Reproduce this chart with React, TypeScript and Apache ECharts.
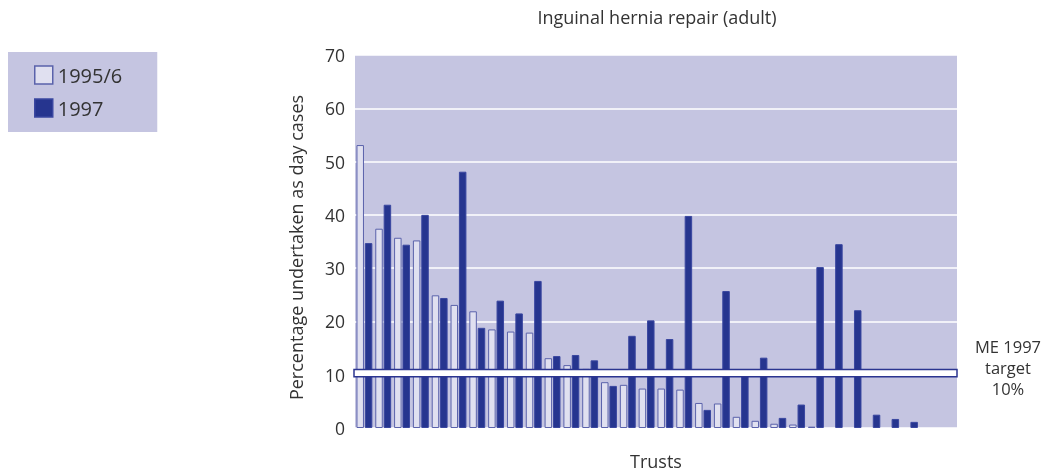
import React, { useEffect, useRef } from "react";
import * as echarts from "echarts";

const trusts: string[] = Array.from({ length: 32 }, (_, i) => `Trust ${i + 1}`);
const values1995: (number | null)[] = [
  53.1, 37.4, 35.7, 35.2, 24.9, 23.1, 21.9, 18.5, 18.1, 17.9,
  13.1, 11.8, 11.1, 8.6, 8.1, 7.4, 7.4, 7.2, 4.7, 4.6,
  2.1, 1.35, 0.8, 0.65, 0.25, null, null, null, null, null, null, null,
];
const values1997: (number | null)[] = [
  34.7, 41.9, 34.4, 40.0, 24.4, 48.1, 18.8, 23.9, 21.5, 27.6,
  13.5, 13.7, 12.7, 7.9, 17.3, 20.2, 16.7, 39.8, 3.4, 25.7,
  10.2, 13.2, 1.9, 4.4, 30.2, 34.5, 22.1, 2.5, 1.7, 1.15, null, null,
];
const yTicks: number[] = [0, 10, 20, 30, 40, 50, 60, 70];
const targetBand: [number, number] = [9.6, 11.0];

const FONT = "'Open Sans', 'Noto Sans', sans-serif";

export default function App() {
  const ref = useRef<HTMLDivElement>(null);
  useEffect(() => {
    if (!ref.current) return;
    const chart = echarts.init(ref.current, null, { renderer: "svg" });
    chart.setOption({
      animation: false,
      textStyle: { fontFamily: FONT },
      grid: { left: 355, right: 95, top: 55, bottom: 45.5, show: true, backgroundColor: "#c5c5e1", borderWidth: 0 },
      legend: {
        orient: "vertical",
        left: 8,
        top: 52,
        backgroundColor: "#c5c5e1",
        padding: [13, 35, 14, 26],
        icon: "rect",
        itemWidth: 18,
        itemHeight: 18,
        itemGap: 13,
        itemTextGap: 7,
        itemStyle: { borderWidth: 1.5 },
        textStyle: { fontSize: 20, color: "#333", fontFamily: FONT },
        data: ["1995/6", "1997"],
      },
      xAxis: {
        type: "category",
        data: trusts,
        axisLine: { show: false },
        axisTick: { show: false },
        axisLabel: { show: false },
        name: "Trusts",
        nameLocation: "middle",
        nameGap: 24,
        nameTextStyle: { fontSize: 18, color: "#333" },
      },
      yAxis: {
        type: "value",
        min: yTicks[0],
        max: yTicks[yTicks.length - 1],
        interval: 10,
        axisLine: { show: false },
        axisTick: { show: false },
        axisLabel: { fontSize: 17.5, color: "#333", margin: 10 },
        splitLine: { lineStyle: { color: "#ffffff", width: 1.5 } },
        name: "Percentage undertaken as day cases",
        nameLocation: "middle",
        nameRotate: 90,
        nameGap: 50,
        nameTextStyle: { fontSize: 18, color: "#333", padding: [0, 12, 0, 0] },
      },
      series: [
        {
          name: "1995/6",
          type: "bar",
          data: values1995,
          barWidth: 7.5,
          barGap: "12%",
          itemStyle: { color: "#e0e0f0", borderColor: "#5a62ab", borderWidth: 1 },
        },
        {
          name: "1997",
          type: "bar",
          data: values1997,
          barWidth: 7.5,
          barGap: "12%",
          itemStyle: { color: "#26358f", borderColor: "#3a47a0", borderWidth: 1 },
        },
        {
          type: "custom",
          z: 10,
          silent: true,
          data: [targetBand],
          renderItem: (params: any, api: any) => {
            const cs = params.coordSys;
            const yTop = api.coord([0, api.value(1)])[1];
            const yBot = api.coord([0, api.value(0)])[1];
            return {
              type: "rect",
              shape: { x: cs.x - 1, y: yTop, width: cs.width + 1, height: yBot - yTop },
              style: { fill: "#ffffff", stroke: "#2b3590", lineWidth: 1.5 },
            };
          },
        },
      ],
      graphic: [
        {
          type: "text",
          x: 657,
          y: 8,
          style: {
            text: "Inguinal hernia repair (adult)",
            font: `18px ${FONT}`,
            fill: "#333",
            align: "center",
          },
        },
        {
          type: "text",
          x: 1008,
          y: 336,
          style: {
            text: "ME 1997\ntarget\n10%",
            font: `16.5px ${FONT}`,
            fill: "#333",
            align: "center",
            lineHeight: 21,
          },
        },
      ],
    });
    return () => chart.dispose();
  }, []);
  return (
    <div
      ref={ref}
      style={{ position: "fixed", left: 0, top: 0, width: 1052, height: 475 }}
    />
  );
}
